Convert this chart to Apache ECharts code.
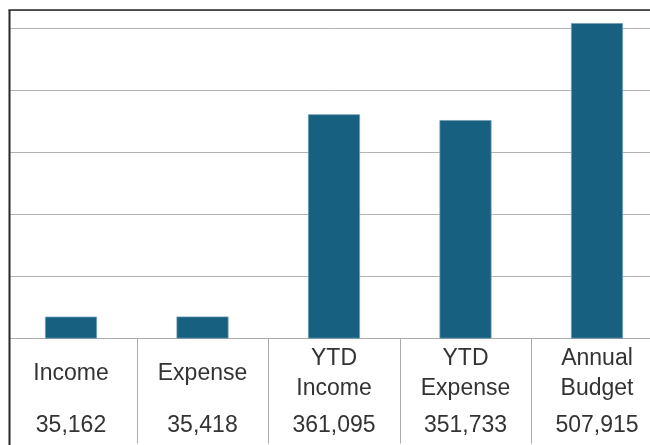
<!DOCTYPE html>
<html>
<head>
<meta charset="utf-8">
<script src="https://cdn.jsdelivr.net/npm/echarts@6/dist/echarts.min.js"></script>
<style>
  html, body { margin: 0; padding: 0; background: #ffffff; }
  #chart { width: 650px; height: 445px; }
</style>
</head>
<body>
<div id="chart"></div>
<script>
const categories = ['Income', 'Expense', 'YTD\nIncome', 'YTD\nExpense', 'Annual\nBudget'];
const values = [35162, 35418, 361095, 351733, 507915];

const fmt = v => v.toLocaleString('en-US');
const FONT = 'Liberation Sans';

const chart = echarts.init(document.getElementById('chart'), null, { renderer: 'canvas' });
chart.setOption({
  animation: false,
  backgroundColor: '#ffffff',
  grid: { left: 5.25, width: 657.5, top: 10, height: 328.5, containLabel: false, outerBoundsMode: 'none' },
  xAxis: [
    {
      type: 'category',
      data: categories,
      position: 'bottom',
      axisLine: { show: true, lineStyle: { color: '#ababab', width: 1 } },
      axisTick: { show: true, length: 105, lineStyle: { color: '#ababab', width: 1 } },
      axisLabel: {
        interval: 0, margin: 35.5, verticalAlign: 'middle', lineHeight: 30,
        fontFamily: FONT, fontSize: 23, color: '#333333'
      },
      splitLine: { show: false }
    },
    {
      type: 'category',
      data: categories,
      position: 'bottom',
      axisLine: { show: false },
      axisTick: { show: false },
      axisLabel: {
        interval: 0, margin: 87, verticalAlign: 'middle',
        fontFamily: FONT, fontSize: 23, color: '#333333',
        formatter: (val, idx) => fmt(values[idx])
      },
      splitLine: { show: false }
    }
  ],
  yAxis: {
    type: 'value',
    min: 0, max: 529000, interval: 100000,
    axisLine: { show: false },
    axisTick: { show: false },
    axisLabel: { show: false },
    splitLine: { show: true, lineStyle: { color: '#b3b3b3', width: 1 } }
  },
  series: [{
    type: 'bar',
    data: values,
    barWidth: 52,
    itemStyle: { color: '#17607F', borderColor: '#6f9cb1', borderWidth: 0.75 }
  }],
  graphic: [
    { type: 'rect', z: 100, shape: { x: 0, y: 0, width: 9, height: 445 }, style: { fill: '#ffffff' } },
    { type: 'line', z: 101, shape: { x1: 9.5, y1: 10, x2: 9.5, y2: 445 }, style: { stroke: '#262626', lineWidth: 2 } },
    { type: 'line', z: 101, shape: { x1: 8.5, y1: 10, x2: 650, y2: 10 }, style: { stroke: '#262626', lineWidth: 1.5 } }
  ]
});
</script>
</body>
</html>
